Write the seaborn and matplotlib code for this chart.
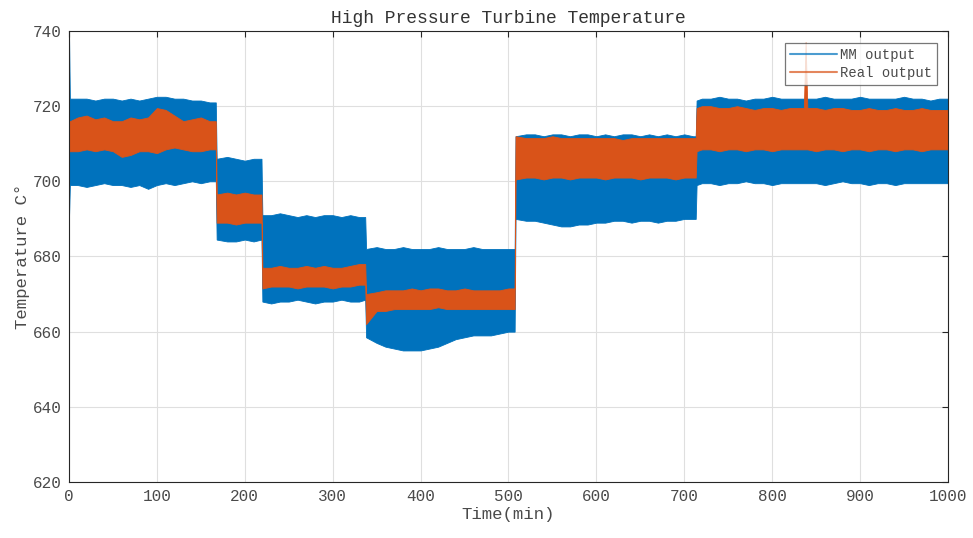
import numpy as np
import pandas as pd
import matplotlib
matplotlib.use("Agg")
import matplotlib.pyplot as plt
from matplotlib.lines import Line2D
import seaborn as sns

# envelope of each signal (upper / lower edge of the noise band)
time = [0, 1, 10, 20, 30, 40, 50, 60, 70, 80, 90, 100, 110, 120, 130, 140, 150, 160, 167,
        168, 180, 190, 200, 210, 219,
        220, 230, 240, 250, 260, 270, 280, 290, 300, 310, 320, 330, 337,
        338, 350, 360, 370, 380, 390, 400, 410, 420, 430, 440, 450, 460, 470, 480, 490, 500, 507,
        508, 520, 530, 540, 550, 560, 570, 580, 590, 600, 610, 620, 630, 640, 650, 660, 670, 680, 690, 700, 710, 713,
        714, 720, 730, 740, 750, 760, 770, 780, 790, 800, 810, 820, 830, 836, 838, 840, 850, 860, 870, 880, 890,
        900, 910, 920, 930, 940, 950, 960, 970, 980, 990, 1000]

mm_hi = [740, 722, 722, 722, 721.5, 722, 722, 721.5, 722, 721.5, 722, 722.5, 722.5, 722, 722, 721.5, 721.5, 721, 721,
         706, 706.5, 706, 705.5, 706, 706,
         691, 691, 691.5, 691, 690.5, 691, 690.5, 691, 691, 690.5, 691, 690.5, 690.5,
         682, 682.5, 682, 682, 682.5, 682, 682, 682, 682.5, 682, 682, 682, 682.5, 682, 682, 682, 682, 682,
         712, 712.5, 712.5, 712, 712.5, 712.5, 712, 712.5, 712.5, 712, 712.5, 712, 712.5, 712.5, 712, 712.5, 712, 712.5, 712, 712.5, 712, 712,
         721.5, 722, 722, 722.5, 722, 722, 721.5, 722, 722, 722.5, 722, 722, 722, 722, 722, 722, 722, 722.5, 722, 722, 722,
         722.5, 722, 722, 722, 722, 722.5, 722, 722, 721.5, 722, 722]

mm_lo = [690, 699, 699, 698.5, 699, 699.5, 699, 699, 698.5, 699, 698, 699, 699.5, 699, 699.5, 700, 699.5, 700, 700,
         684.5, 684, 684, 684.5, 684, 684.5,
         668, 667.5, 668, 668, 668.5, 668, 667.5, 668, 668, 668.5, 668, 668, 668.5,
         658.5, 657, 656, 655.5, 655, 655, 655, 655.5, 656, 657, 658, 658.5, 659, 659, 659, 659.5, 660, 660,
         690, 689.5, 689.5, 689, 688.5, 688, 688, 688.5, 688.5, 689, 689, 689.5, 689.5, 689, 689.5, 689.5, 689, 689.5, 689.5, 690, 690, 690,
         699, 699.5, 699.5, 699, 699.5, 699.5, 700, 699.5, 699.5, 699, 699.5, 699.5, 699.5, 699.5, 699.5, 699.5, 699.5, 699, 699.5, 700, 699.5,
         699.5, 699, 699.5, 699.5, 699, 699.5, 699.5, 699.5, 699.5, 699.5, 699.5]

real_hi = [716, 716, 717, 717.5, 716.5, 717, 716, 716, 717, 716.5, 717, 719.5, 719, 717.5, 716, 716.5, 717, 716, 716,
           696.5, 697, 696.5, 697, 696.5, 696.5,
           677, 677, 677.5, 677, 677, 677.5, 677, 677.5, 677, 677, 677.5, 678, 678,
           670, 670.5, 671, 671, 671, 671.5, 671, 671.5, 671.5, 671, 671, 671.5, 671, 671, 671, 671, 671.5, 671.5,
           712, 711.5, 711.5, 711.5, 712, 711.5, 711.5, 711.5, 711.5, 711.5, 711.5, 711.5, 711, 711.5, 711.5, 711.5, 711.5, 711.5, 711.5, 711.5, 711.5, 711.5,
           719.5, 720, 720, 719.5, 719.5, 720, 719.5, 719, 719.5, 719.5, 719, 719.5, 719.5, 719.5, 737, 719.5, 719.5, 719, 719.5, 719.5, 719,
           719, 719.5, 719, 719, 719.5, 719, 719, 719.5, 719, 719, 719]

real_lo = [708, 708, 708, 708.5, 708, 708.5, 708, 706.5, 707, 708, 708, 707.5, 708.5, 709, 708.5, 708, 708, 708.5, 708.5,
           689, 689, 688.5, 689, 689, 689,
           671.5, 672, 672, 672, 671.5, 672, 672, 672, 671.5, 672, 672, 672.5, 672.5,
           662, 665.5, 665.5, 666, 666, 666, 666, 666, 666.5, 666, 666, 666, 666, 666, 666, 666, 666, 666,
           700.5, 701, 701, 700.5, 701, 701, 700.5, 701, 701, 701, 700.5, 701, 701, 701, 700.5, 701, 701, 701, 700.5, 701, 701, 701,
           708, 708.5, 708.5, 708, 708.5, 708.5, 708, 708.5, 708.5, 708, 708.5, 708.5, 708.5, 708.5, 708.5, 708.5, 708, 708.5, 708.5, 708, 708.5,
           708.5, 708, 708.5, 708.5, 708, 708.5, 708.5, 708, 708.5, 708.5, 708.5]

series_names = ["MM output", "Real output"]
colors = ["#0072BD", "#D95319"]

frames = []
for name, hi, lo in [(series_names[0], mm_hi, mm_lo), (series_names[1], real_hi, real_lo)]:
    frames.append(pd.DataFrame({"time": time, "temp": hi, "series": name}))
    frames.append(pd.DataFrame({"time": time, "temp": lo, "series": name}))
df = pd.concat(frames, ignore_index=True)

sns.set_theme(style="white")
plt.rcParams["font.family"] = ["Liberation Mono", "DejaVu Sans Mono"]

fig = plt.figure(figsize=(9.73, 5.38), dpi=100)
ax = fig.add_axes([0.0709, 0.1041, 0.9034, 0.8383])

# the dense noisy signal shows up as a solid band between its min and max
for name, col in zip(series_names, colors):
    sns.lineplot(data=df[df.series == name], x="time", y="temp", color=col,
                 estimator="mean", errorbar=lambda v: (v.min(), v.max()),
                 err_kws={"alpha": 1, "linewidth": 0.6, "edgecolor": col},
                 linewidth=0, legend=False, ax=ax)

ax.set_xlim(0, 1000)
ax.set_ylim(620, 740)
ax.set_xticks(np.arange(0, 1001, 100))
ax.set_yticks(np.arange(620, 741, 20))
ax.grid(True, color="#dfdfdf", linewidth=0.8)
ax.set_axisbelow(True)
for s in ax.spines.values():
    s.set_color("#262626")
    s.set_linewidth(0.8)
ax.tick_params(direction="in", top=True, right=True, length=4, width=0.8,
               colors="#262626", labelcolor="#4a4a4a", labelsize=11.5, pad=5)

ax.set_title("High Pressure Turbine Temperature", fontsize=13, color="#333333", pad=6)
ax.set_xlabel("Time(min)", fontsize=12.5, color="#4a4a4a", labelpad=2)
ax.set_ylabel("Temperature C°", fontsize=12.5, color="#4a4a4a", labelpad=2)

handles = [Line2D([], [], color=c, linewidth=1.5, alpha=0.7) for c in colors]
leg = ax.legend(handles, series_names, loc="upper right", bbox_to_anchor=(0.9875, 0.973),
                fontsize=10, frameon=True, fancybox=False, handlelength=3.4, handletextpad=0.2,
                borderpad=0.35, labelspacing=0.3, borderaxespad=0)
leg.get_frame().set_edgecolor("#555555")
leg.get_frame().set_linewidth(0.9)
for t in leg.get_texts():
    t.set_color("#4a4a4a")

fig.savefig("out.png", dpi=100)
